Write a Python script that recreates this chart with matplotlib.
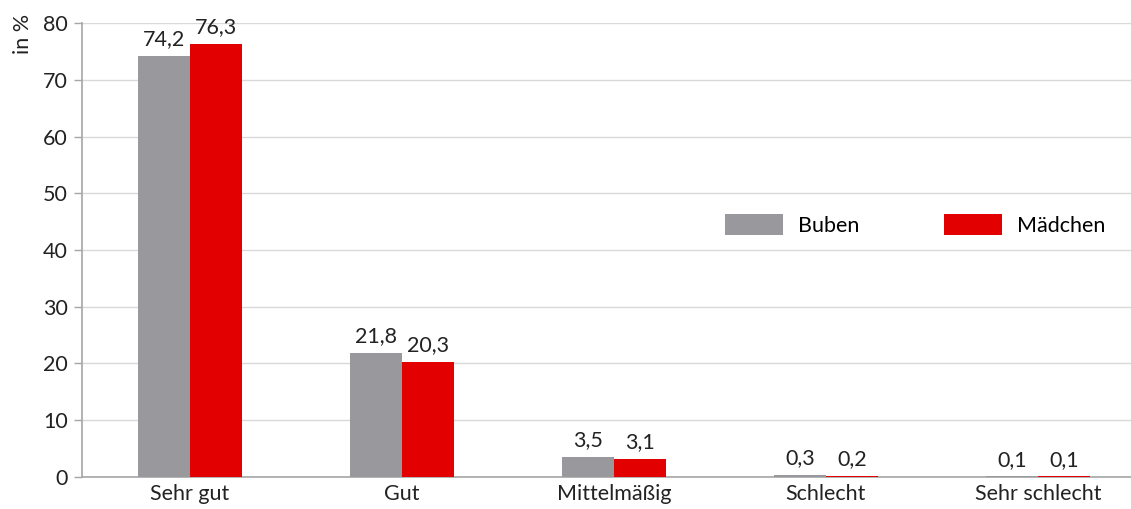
import matplotlib
matplotlib.use("Agg")
import matplotlib.pyplot as plt
import numpy as np

categories = ["Sehr gut", "Gut", "Mittelmäßig", "Schlecht", "Sehr schlecht"]
buben = [74.2, 21.8, 3.5, 0.3, 0.1]
maedchen = [76.3, 20.3, 3.1, 0.2, 0.1]
series_names = ["Buben", "Mädchen"]
yticks = [0, 10, 20, 30, 40, 50, 60, 70, 80]

plt.rcParams["font.family"] = ["Lato", "DejaVu Sans"]
FS = 15.5

fig = plt.figure(figsize=(11.31, 5.09), dpi=100)
ax = fig.add_axes([0.0725, 0.0629, 0.9275, 0.8919])

x = np.arange(len(categories))
w = 0.245
gray = "#99989d"
red = "#e30000"
b1 = ax.bar(x - w / 2, buben, w, color=gray, label=series_names[0], zorder=3)
b2 = ax.bar(x + w / 2, maedchen, w, color=red, label=series_names[1], zorder=3)

def fmt(v):
    return f"{v:.1f}".replace(".", ",")

for bars, vals in ((b1, buben), (b2, maedchen)):
    for rect, v in zip(bars, vals):
        ax.text(rect.get_x() + rect.get_width() / 2, v + 1.2, fmt(v),
                ha="center", va="bottom", fontsize=FS, color="#222222")

ax.set_xlim(-0.51, 4.44)
ax.set_ylim(0, 80)
ax.set_yticks(yticks)
ax.set_yticklabels([str(t) for t in yticks], fontsize=FS, color="#222222")
ax.set_xticks(x)
ax.set_xticklabels(categories, fontsize=FS, color="#222222")
ax.tick_params(axis="x", length=0, pad=5)
ax.tick_params(axis="y", length=6, width=1, color="#a6a6a6", pad=4)

ax.yaxis.grid(True, color="#d9d9d9", linewidth=1)
ax.set_axisbelow(True)
for s in ("top", "right"):
    ax.spines[s].set_visible(False)
ax.spines["left"].set_color("#a6a6a6")
ax.spines["bottom"].set_color("#a6a6a6")
ax.spines["left"].set_linewidth(1.2)
ax.spines["bottom"].set_linewidth(1.2)

ax.set_ylabel("in %", fontsize=FS, color="#222222")
ax.yaxis.set_label_coords(-0.047, 0.975)

ax.legend(loc="center left", bbox_to_anchor=(0.613, 0.555), ncol=2, frameon=False,
          fontsize=FS, handlelength=2.7, handleheight=1.15, columnspacing=3.9,
          handletextpad=0.7, borderpad=0, borderaxespad=0)

fig.savefig("out.png", dpi=100)
